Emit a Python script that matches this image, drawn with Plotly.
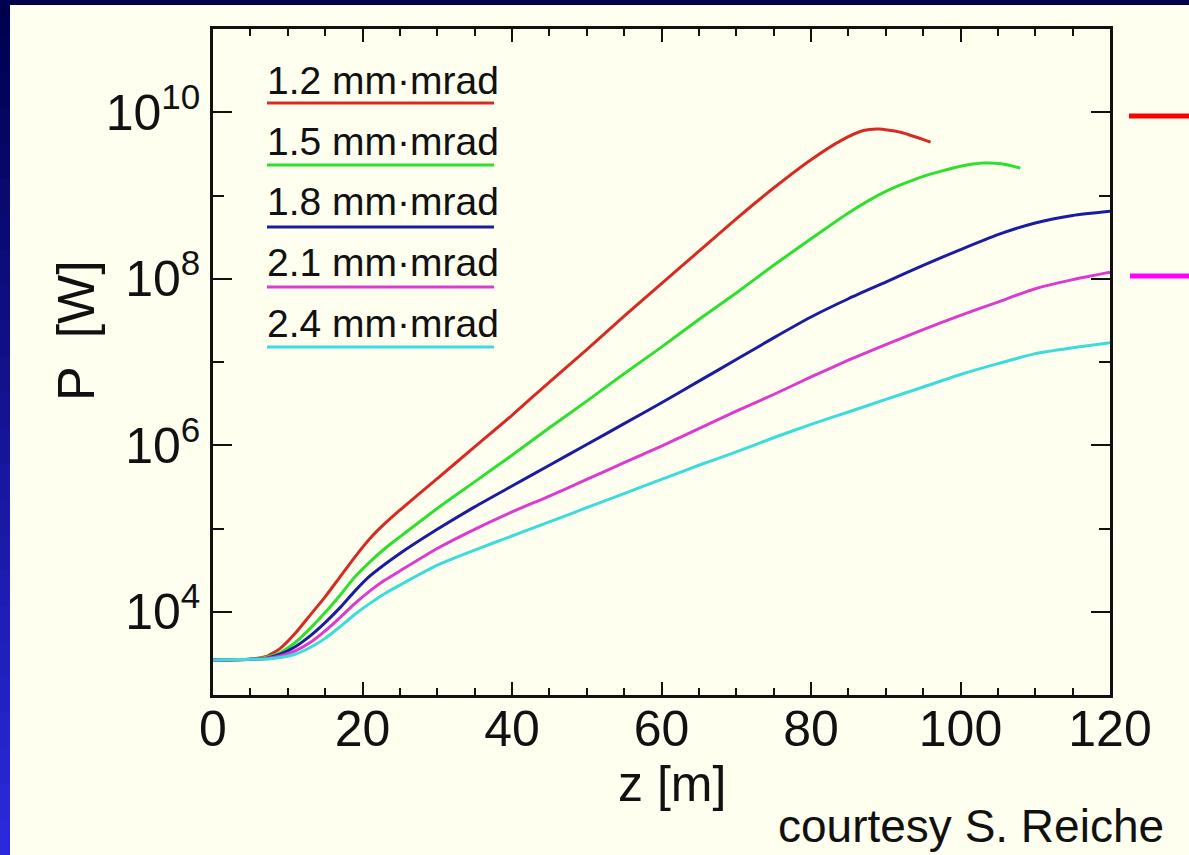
import plotly.graph_objects as go

# ---------------- data ----------------
labels = ["1.2 mm·mrad", "1.5 mm·mrad", "1.8 mm·mrad", "2.1 mm·mrad", "2.4 mm·mrad"]
colors = ["#d82a22", "#2ee02e", "#1c1ca0", "#dc3ad0", "#3adcdc"]

z_12 = [0, 5, 7, 9, 11, 13, 15, 17, 19, 21, 23, 25, 30, 35, 40, 45, 50, 55, 60, 65,
        70, 75, 80, 84, 87, 89, 92, 96]
P_12 = [2630, 2690, 2880, 3630, 5500, 9120, 1.51e4, 2.63e4, 4.57e4, 7.59e4, 1.15e5,
        1.66e5, 3.98e5, 9.55e5, 2.29e6, 5.75e6, 1.41e7, 3.55e7, 8.71e7, 2.14e8,
        5.25e8, 1.23e9, 2.69e9, 4.57e9, 6.03e9, 6.31e9, 5.75e9, 4.37e9]

z_15 = [0, 5, 7, 9, 11, 13, 15, 17, 19, 21, 23, 25, 30, 35, 40, 45, 50, 55, 60, 65,
        70, 75, 80, 85, 90, 95, 100, 103, 105.5, 108]
P_15 = [2630, 2690, 2820, 3240, 4270, 6310, 9770, 1.58e4, 2.63e4, 3.98e4, 5.75e4,
        7.94e4, 1.74e5, 3.63e5, 7.59e5, 1.62e6, 3.39e6, 7.24e6, 1.51e7, 3.24e7,
        6.76e7, 1.45e8, 3.02e8, 6.17e8, 1.12e9, 1.70e9, 2.24e9, 2.45e9, 2.40e9, 2.14e9]

z_long = [0, 5, 7, 9, 11, 13, 15, 17, 19, 21, 23, 25, 30, 35, 40, 45, 50, 55, 60, 65,
          70, 75, 80, 85, 90, 95, 100, 105, 110, 115, 120]
P_18 = [2630, 2690, 2750, 3090, 3800, 5130, 7410, 1.12e4, 1.78e4, 2.69e4, 3.72e4,
        5.01e4, 9.77e4, 1.82e5, 3.24e5, 5.75e5, 1.02e6, 1.82e6, 3.24e6, 5.89e6,
        1.07e7, 1.95e7, 3.47e7, 5.75e7, 9.12e7, 1.45e8, 2.24e8, 3.39e8, 4.68e8,
        5.75e8, 6.46e8]
P_21 = [2630, 2690, 2750, 2950, 3390, 4270, 5890, 8510, 1.26e4, 1.78e4, 2.40e4,
        3.09e4, 5.75e4, 9.77e4, 1.58e5, 2.45e5, 3.89e5, 6.17e5, 9.77e5, 1.58e6,
        2.57e6, 4.07e6, 6.61e6, 1.05e7, 1.62e7, 2.45e7, 3.63e7, 5.25e7, 7.59e7,
        9.77e7, 1.20e8]
P_24 = [2630, 2690, 2690, 2820, 3090, 3720, 4790, 6610, 9330, 1.26e4, 1.66e4,
        2.09e4, 3.63e4, 5.50e4, 8.13e4, 1.20e5, 1.78e5, 2.63e5, 3.89e5, 5.75e5,
        8.32e5, 1.23e6, 1.78e6, 2.51e6, 3.55e6, 5.01e6, 7.08e6, 9.55e6, 1.26e7,
        1.48e7, 1.70e7]

series_z = [z_12, z_15, z_long, z_long, z_long]
series_P = [P_12, P_15, P_18, P_21, P_24]

x_ticks = [0, 20, 40, 60, 80, 100, 120]
y_ticks = [1e4, 1e6, 1e8, 1e10]
y_ticktext = ["10<sup>4</sup>", "10<sup>6</sup>", "10<sup>8</sup>", "10<sup>10</sup>"]
y_minor = [1e3, 1e5, 1e7, 1e9, 1e11]

# ---------------- layout geometry ----------------
W, H = 1189, 855
L, R, T, B = 213, 1110, 29, 695
pw, ph = R - L, B - T


def px(x):
    return (x - L) / pw


def py(y):
    return (B - y) / ph


fig = go.Figure()
for z, P, c in zip(series_z, series_P, colors):
    fig.add_trace(go.Scatter(x=z, y=P, mode="lines",
                             line=dict(color=c, width=3, shape="spline", smoothing=0.6),
                             showlegend=False, hoverinfo="skip"))

shapes = []
cream = "#fffff0"
n = 24
for i in range(n):
    t = i / (n - 1)
    r = int(0 + 42 * t)
    g = int(0 + 42 * t)
    b = int(80 + 140 * t)
    y0 = i * H / n
    y1 = (i + 1) * H / n + 1
    shapes.append(dict(type="rect", xref="paper", yref="paper",
                       x0=px(0), x1=px(10), y0=py(y0), y1=py(y1),
                       fillcolor=f"rgb({r},{g},{b})", line=dict(width=0), layer="below"))
shapes.append(dict(type="rect", xref="paper", yref="paper",
                   x0=px(0), x1=px(W), y0=py(0), y1=py(5),
                   fillcolor="#00004e", line=dict(width=0), layer="below"))

# legend sample lines
leg_line_y = [103, 165, 227, 287, 347]
leg_text_y = [78.5, 139.5, 200, 260.5, 321]
for c, yy in zip(colors, leg_line_y):
    shapes.append(dict(type="line", xref="paper", yref="paper",
                       x0=px(267), x1=px(494), y0=py(yy), y1=py(yy),
                       line=dict(color=c, width=3)))

# right-hand marker lines
shapes.append(dict(type="line", xref="paper", yref="paper",
                   x0=px(1129), x1=px(1189), y0=py(116), y1=py(116),
                   line=dict(color="#ff0000", width=5)))
shapes.append(dict(type="line", xref="paper", yref="paper",
                   x0=px(1130), x1=px(1189), y0=py(276), y1=py(276),
                   line=dict(color="#ff00ff", width=5)))

annotations = []
for lab, yy in zip(labels, leg_text_y):
    annotations.append(dict(text=lab, xref="paper", yref="paper",
                            x=px(265), y=py(yy + 2), xanchor="left", yanchor="middle",
                            showarrow=False,
                            font=dict(family="Liberation Sans, Arial", size=39, color="#111")))

annotations.append(dict(text="P  [W]", xref="paper", yref="paper", textangle=-90,
                        x=px(76), y=py(331), xanchor="center", yanchor="middle",
                        showarrow=False,
                        font=dict(family="Liberation Sans, Arial", size=52, color="#111")))
annotations.append(dict(text="z [m]", xref="paper", yref="paper",
                        x=px(672), y=py(784), xanchor="center", yanchor="middle",
                        showarrow=False,
                        font=dict(family="Liberation Sans, Arial", size=50, color="#111")))
annotations.append(dict(text="courtesy S. Reiche", xref="paper", yref="paper",
                        x=px(1166), y=py(826), xanchor="right", yanchor="middle",
                        showarrow=False,
                        font=dict(family="Liberation Sans, Arial", size=46, color="#111")))

axis_common = dict(showline=True, linecolor="#111", linewidth=2.5, mirror="allticks",
                   ticks="inside", tickcolor="#111", tickwidth=2, showgrid=False,
                   zeroline=False,
                   tickfont=dict(family="Liberation Sans, Arial", size=50, color="#111"))

fig.update_layout(
    width=W, height=H,
    margin=dict(l=L, r=W - R, t=T, b=H - B),
    paper_bgcolor=cream, plot_bgcolor=cream,
    shapes=shapes, annotations=annotations,
    xaxis=dict(range=[0, 120], tickmode="array", tickvals=x_ticks, ticklen=13,
               ticklabelstandoff=-12,
               minor=dict(dtick=5, ticks="inside", ticklen=7, tickcolor="#111", tickwidth=2),
               **axis_common),
    yaxis=dict(type="log", range=[3, 11], tickmode="array", tickvals=y_ticks,
               ticktext=y_ticktext, ticklen=19,
               minor=dict(tickmode="array", tickvals=y_minor, ticks="inside", ticklen=11,
                          tickcolor="#111", tickwidth=2),
               **axis_common),
)

fig.write_html("out.html")
